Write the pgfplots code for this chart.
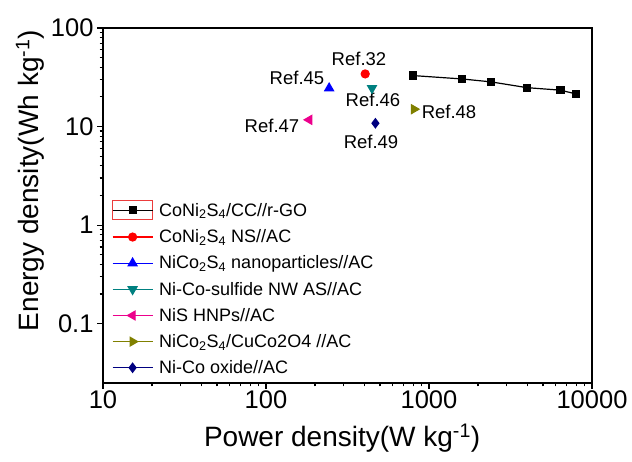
\documentclass[border=0pt]{standalone}
\usepackage{fontspec}
\setmainfont{Liberation Sans}
\usepackage{pgfplots}
\pgfplotsset{compat=1.18}
\definecolor{cteal}{RGB}{0,128,128}
\definecolor{colive}{RGB}{128,128,0}
\definecolor{cnavy}{RGB}{0,0,128}
\definecolor{boxred}{RGB}{235,60,60}
\pgfplotsset{boxedlegend/.style={legend image code/.code={%
    \draw[draw=boxred, line width=0.8pt, solid] (0pt,-9.5pt) rectangle (40pt,9.5pt);
    \draw[mark repeat=2,mark phase=2,##1] plot coordinates {(0pt,0pt) (20pt,0pt) (40pt,0pt)};}}}
\begin{document}
\begin{tikzpicture}
\path[use as bounding box] (-103pt,-78pt) rectangle (529pt,383pt);
\begin{axis}[
  at={(0pt,0pt)}, anchor=south west,
  scale only axis, width=489pt, height=355pt,
  xmode=log, ymode=log,
  xmin=10, xmax=10000, ymin=0.025, ymax=100,
  xtick={10,100,1000,10000}, xticklabels={10,100,1000,10000},
  ytick={0.1,1,10,100}, yticklabels={0.1,1,10,100},
  tick align=outside, xtick pos=bottom, ytick pos=left,
  major tick length=6pt, minor tick length=3.5pt,
  axis line style={line width=1.6pt},
  every tick/.style={black, line width=1.2pt},
  /pgf/number format/assume math mode=true,
  ticklabel style={font=\fontsize{25.5}{28}\selectfont},
  xticklabel style={yshift=2pt},
  xlabel={Power density(W kg\textsuperscript{-1})},
  ylabel={Energy density(Wh kg\textsuperscript{-1})},
  xlabel style={font=\fontsize{28}{32}\selectfont, at={(axis description cs:0.489,-0.155)}, anchor=center},
  ylabel style={font=\fontsize{28}{32}\selectfont, at={(axis description cs:-0.149,0.57)}, anchor=center},
  legend style={at={(rel axis cs:0.018,0.515)}, anchor=north west, draw=none, fill=none,
    font=\fontsize{18}{20}\selectfont, row sep=7.6pt, inner sep=0pt,
    /tikz/every odd column/.style={column sep=4pt}},
  legend cell align=left,
  legend image code/.code={\draw[mark repeat=2,mark phase=2,#1] plot coordinates {(0pt,0pt) (20pt,0pt) (40pt,0pt)};},
]
\addplot[black, line width=1.2pt, mark=square*, mark size=3.5pt, boxedlegend] coordinates {
 (800,32.9) (1600,30.4) (2400,28.4) (4000,24.8) (6400,23.4) (8000,21.4)};
\addlegendentry{CoNi\textsubscript{2}S\textsubscript{4}/CC//r-GO}
\addplot[red, line width=1.2pt, mark=*, mark size=4pt] coordinates {(406,34.2)};
\addlegendentry{CoNi\textsubscript{2}S\textsubscript{4} NS//AC}
\addplot[blue, line width=1.2pt, mark=triangle*, mark size=5pt] coordinates {(244,24.5)};
\addlegendentry{NiCo\textsubscript{2}S\textsubscript{4} nanoparticles//AC}
\addplot[cteal, line width=1.2pt, mark=triangle*, mark size=5pt, mark options={rotate=180}] coordinates {(447,24.5)};
\addlegendentry{Ni-Co-sulfide NW AS//AC}
\addplot[magenta, line width=1.2pt, mark=triangle*, mark size=5pt, mark options={rotate=90}] coordinates {(184,11.7)};
\addlegendentry{NiS HNPs//AC}
\addplot[colive, line width=1.2pt, mark=triangle*, mark size=5pt, mark options={rotate=-90}] coordinates {(809,15.0)};
\addlegendentry{NiCo\textsubscript{2}S\textsubscript{4}/CuCo2O4 //AC}
\addplot[cnavy, line width=1.2pt, mark=diamond*, mark size=4.5pt] coordinates {(469,10.8)};
\addlegendentry{Ni-Co oxide//AC}
\begin{scope}[font=\fontsize{18.5}{21}\selectfont]
\node at (rel axis cs:0.5235,0.9127) {Ref.32};
\node at (rel axis cs:0.3967,0.8592) {Ref.45};
\node at (rel axis cs:0.5521,0.7972) {Ref.46};
\node at (rel axis cs:0.7076,0.7634) {Ref.48};
\node at (rel axis cs:0.3456,0.7239) {Ref.47};
\node at (rel axis cs:0.5481,0.6789) {Ref.49};
\end{scope}
\end{axis}
\end{tikzpicture}
\end{document}
